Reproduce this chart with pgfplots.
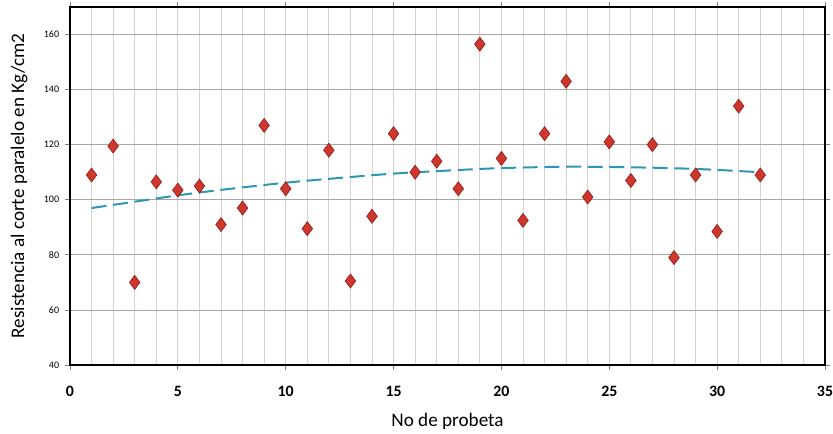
\documentclass[border=0pt]{standalone}
\usepackage{pgfplots}
\pgfplotsset{compat=1.18}
\usepackage{fontspec}
\setmainfont{Carlito}
\definecolor{mred}{RGB}{205,55,45}
\definecolor{mredd}{RGB}{150,30,25}
\definecolor{trend}{RGB}{45,150,180}
\begin{document}
\begin{tikzpicture}
\useasboundingbox (-42pt,-40.8pt) rectangle (457.8pt,219pt);
\begin{axis}[
  at={(0,0)}, anchor=south west,
  scale only axis, width=453pt, height=214.8pt,
  xmin=0, xmax=35, ymin=40, ymax=170,
  xtick={0,5,...,35}, ytick={40,60,...,160},
  minor x tick num=4,
  xmajorgrids, xminorgrids, ymajorgrids,
  major x grid style={gray!35, line width=0.5pt},
  minor x grid style={gray!35, line width=0.5pt},
  major y grid style={gray!70, line width=0.5pt},
  axis line style={black, line width=1.2pt},
  tick align=outside,
  major tick length=3pt, minor tick length=0pt,
  tick style={gray, line width=0.5pt},
  /pgf/number format/assume math mode=true,
  xticklabel style={font=\fontsize{9.5}{10}\selectfont\bfseries, yshift=-6pt},
  yticklabel style={font=\fontsize{6}{7}\selectfont},
  xlabel={No de probeta}, ylabel={Resistencia al corte paralelo en Kg/cm2},
  xlabel style={font=\fontsize{11.5}{12}\selectfont, yshift=-3.5pt},
  ylabel style={font=\fontsize{11.5}{12}\selectfont, yshift=3pt},
  clip=false,
]
\addplot[trend, line width=1.2pt, dash pattern=on 9pt off 4pt, smooth] coordinates {
(1,97) (3,99.3) (5,101.6) (7,103.6) (10,106.2) (12,107.6) (15,109.5) (18,110.8) (20,111.5) (23,112) (26,111.8) (29,111.2) (32,110)};
\addplot[only marks, mark=diamond*, mark size=4.2pt, mark options={fill=mred, draw=mredd, line width=0.4pt}] coordinates {
(1,109) (2,119.5) (3,70) (4,106.5) (5,103.5) (6,105) (7,91) (8,97)
(9,127) (10,104) (11,89.5) (12,118) (13,70.5) (14,94) (15,124) (16,110)
(17,114) (18,104) (19,156.5) (20,115) (21,92.5) (22,124) (23,143) (24,101)
(25,121) (26,107) (27,120) (28,79) (29,109) (30,88.5) (31,134) (32,109)};
\end{axis}
\end{tikzpicture}
\end{document}
